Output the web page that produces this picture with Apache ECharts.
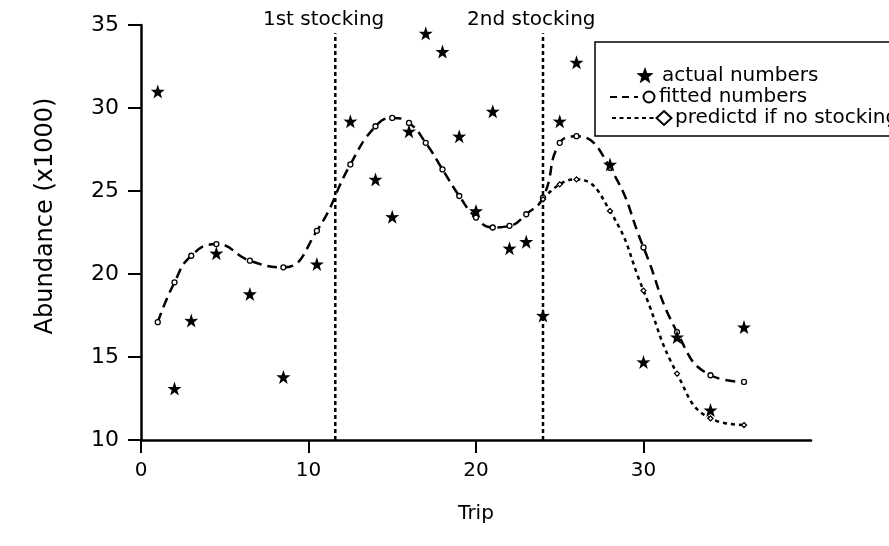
<!DOCTYPE html>
<html><head><meta charset="utf-8">
<script src="https://cdn.jsdelivr.net/npm/echarts@6/dist/echarts.min.js"></script>
<style>html,body{margin:0;padding:0;background:#fff}#c{width:889px;height:546px}</style>
</head><body><div id="c"></div>
<script>
// ---- data ----
const trips      = [1,2,3,4.5,6.5,8.5,10.5,12.5,14,15,16,17,18,19,20,21,22,23,24,25,26,28,30,32,34,36];
const actual     = [31.0,13.1,17.2,21.25,18.8,13.8,20.6,29.2,25.7,23.45,28.6,34.5,33.4,28.3,23.8,29.8,21.55,21.95,17.5,29.2,32.75,26.6,14.7,16.2,11.8,16.8];
const fitted     = [17.1,19.5,21.1,21.8,20.8,20.4,22.6,26.6,28.9,29.4,29.1,27.9,26.3,24.7,23.4,22.8,22.9,23.6,24.6,27.9,28.3,26.4,21.6,16.5,13.9,13.5];
const predTrips  = [24,25,26,28,30,32,34,36];
const predicted  = [24.5,25.4,25.7,23.8,19.0,14.0,11.3,10.9];
const stockings  = [11.6, 24];
const stockNames = ['1st stocking', '2nd stocking'];
const xTicks     = [0,10,20,30];
const legendNames = ['actual numbers', 'fitted numbers', 'predictd if no stocking'];

const FONT = 'DejaVu Sans';
const STAR = 'path://M50,0 L61.8,35.1 L97.6,34.5 L69,56.5 L79.4,90.5 L50,70 L20.6,90.5 L31,56.5 L2.4,34.5 L38.2,35.1 Z';

const chart = echarts.init(document.getElementById('c'), null, {renderer:'canvas'});
const zip = (xs, ys) => xs.map((x,i)=>[x, ys[i]]);

const stockSeries = stockings.map(s => ({
  type:'line', data:[[s,10],[s,34.5]], symbol:'none', silent:true,
  lineStyle:{color:'#000', width:2.5, type:[4,3]}, z:1
}));

chart.setOption({
  animation:false,
  backgroundColor:'#fff',
  grid:{left:141, right:78, top:25, bottom:106, containLabel:false},
  xAxis:{
    type:'value', min:0, max:40,
    name:'Trip', nameLocation:'middle', nameGap:64,
    nameTextStyle:{fontFamily:FONT, fontSize:20, color:'#000'},
    axisLine:{lineStyle:{color:'#000', width:2.5}},
    axisTick:{show:true, length:13, inside:false, customValues:xTicks, lineStyle:{color:'#000', width:2}},
    axisLabel:{customValues:xTicks, fontFamily:FONT, fontSize:20, color:'#000', margin:21},
    splitLine:{show:false}
  },
  yAxis:{
    type:'value', min:10, max:35, interval:5,
    axisLine:{show:true, lineStyle:{color:'#000', width:2.5}},
    axisTick:{show:true, length:13, lineStyle:{color:'#000', width:2}},
    axisLabel:{fontFamily:FONT, fontSize:22, color:'#000', margin:22},
    splitLine:{show:false}
  },
  series:[
    ...stockSeries,
    {
      name:legendNames[1], type:'line', data:zip(trips, fitted), smooth:0.5,
      symbol:'circle', symbolSize:5, showAllSymbol:true,
      itemStyle:{color:'#fff', borderColor:'#000', borderWidth:1.3},
      lineStyle:{color:'#000', width:2.5, type:[10,6]}, z:2
    },
    {
      name:legendNames[2], type:'line', data:zip(predTrips, predicted), smooth:0.5,
      symbol:'diamond', symbolSize:5, showAllSymbol:true,
      itemStyle:{color:'#fff', borderColor:'#000', borderWidth:1.3},
      lineStyle:{color:'#000', width:2.5, type:[4,4]}, z:2
    },
    {
      name:legendNames[0], type:'scatter', data:zip(trips, actual),
      symbol:STAR, symbolSize:14, itemStyle:{color:'#000', opacity:1}, z:3
    }
  ]
});

function starPts(cx, cy, R, r){
  const pts = [];
  for (let i=0;i<10;i++){
    const a = -Math.PI/2 + i*Math.PI/5;
    const rad = i%2===0 ? R : r;
    pts.push([cx + rad*Math.cos(a), cy + rad*Math.sin(a)]);
  }
  return pts;
}

const g = [];
stockings.forEach((s,i)=>{
  const p = chart.convertToPixel({gridIndex:0}, [s-0.7, 35]);
  g.push({type:'text', x:p[0], y:20, style:{text:stockNames[i], font:'20px "DejaVu Sans"', fill:'#000', align:'center', verticalAlign:'middle'}});
});
g.push({type:'text', x:46, y:216, rotation:Math.PI/2, style:{text:'Abundance (x1000)', font:'24px "DejaVu Sans"', fill:'#000', align:'center', verticalAlign:'middle'}});
g.push({type:'rect', shape:{x:595, y:42, width:320, height:94}, style:{fill:'#fff', stroke:'#000', lineWidth:1.5}, z:10});
g.push({type:'polygon', shape:{points:starPts(645,76,9,3.8)}, style:{fill:'#000'}, z:11});
g.push({type:'text', x:662, y:76, style:{text:legendNames[0], font:'20px "DejaVu Sans"', fill:'#000', verticalAlign:'middle'}, z:11});
g.push({type:'line', shape:{x1:610, y1:97, x2:638, y2:97}, style:{stroke:'#000', lineWidth:2, lineDash:[7,5]}, z:11});
g.push({type:'circle', shape:{cx:649, cy:97, r:5.5}, style:{fill:'#fff', stroke:'#000', lineWidth:2}, z:11});
g.push({type:'text', x:659, y:97, style:{text:legendNames[1], font:'20px "DejaVu Sans"', fill:'#000', verticalAlign:'middle'}, z:11});
g.push({type:'line', shape:{x1:612, y1:118, x2:654, y2:118}, style:{stroke:'#000', lineWidth:2, lineDash:[4,3.5]}, z:11});
g.push({type:'polygon', shape:{points:[[664,111],[671.5,118],[664,125],[656.5,118]]}, style:{fill:'#fff', stroke:'#000', lineWidth:2}, z:11});
g.push({type:'text', x:675, y:118, style:{text:legendNames[2], font:'20px "DejaVu Sans"', fill:'#000', verticalAlign:'middle'}, z:11});
chart.setOption({graphic:g});
</script></body></html>
